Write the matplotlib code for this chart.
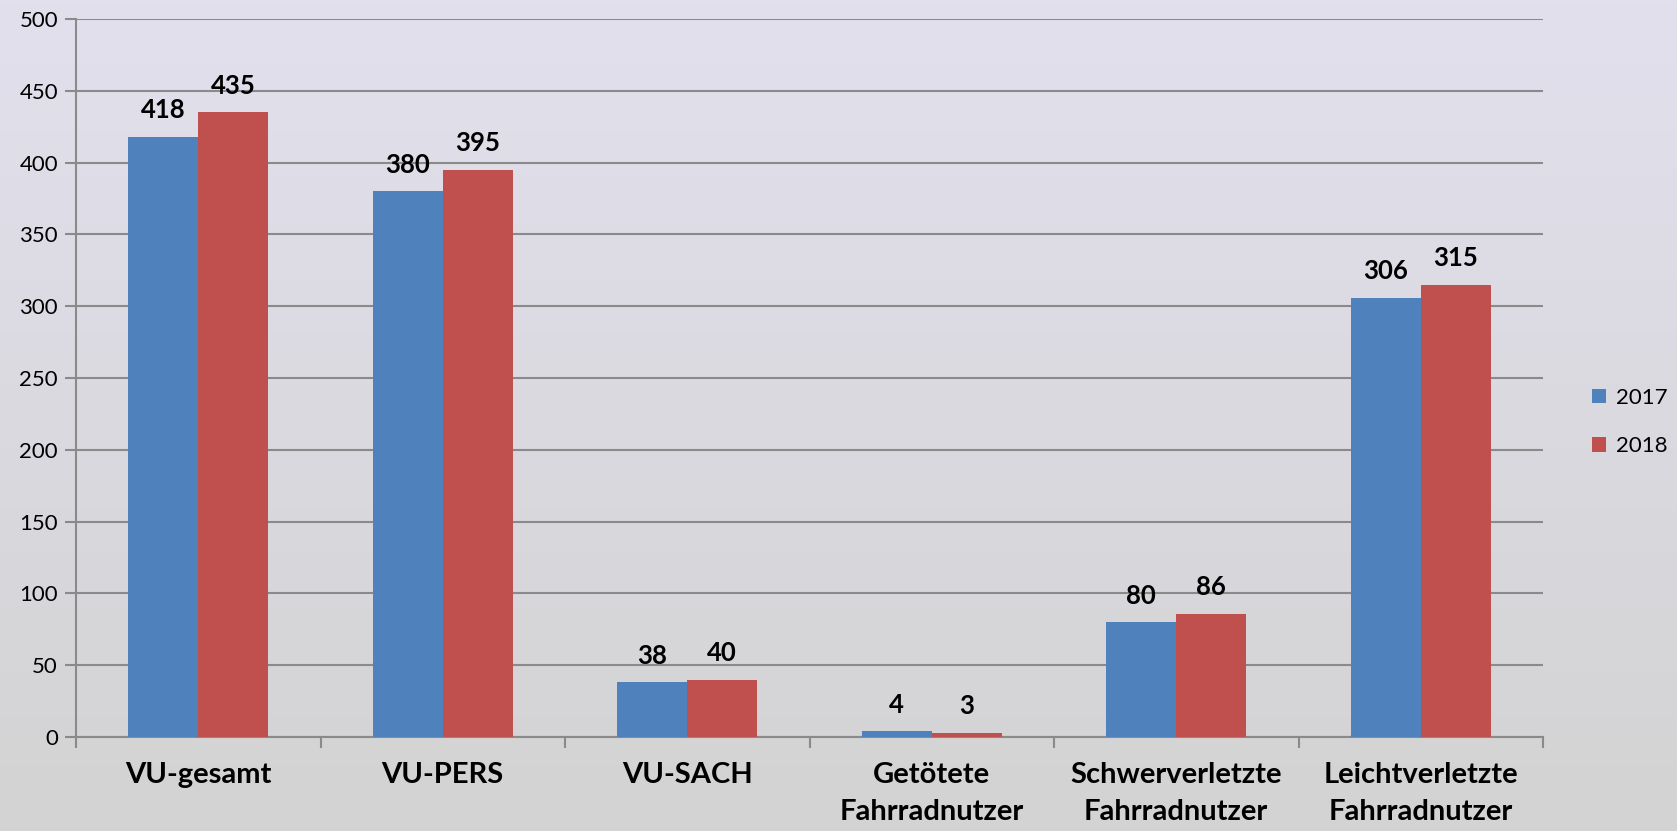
import numpy as np
import matplotlib
matplotlib.use("Agg")
import matplotlib.pyplot as plt

categories = ["VU-gesamt", "VU-PERS", "VU-SACH", "Getötete\nFahrradnutzer",
              "Schwerverletzte\nFahrradnutzer", "Leichtverletzte\nFahrradnutzer"]
series_names = ["2017", "2018"]
values_2017 = [418, 380, 38, 4, 80, 306]
values_2018 = [435, 395, 40, 3, 86, 315]
y_ticks = [0, 50, 100, 150, 200, 250, 300, 350, 400, 450, 500]

plt.rcParams['font.family'] = ['Lato', 'DejaVu Sans']

W, H = 1677, 831
fig = plt.figure(figsize=(W / 100, H / 100), dpi=100)

# gradient background
bg = fig.add_axes([0, 0, 1, 1], zorder=-10)
top = np.array([226, 224, 237]) / 255
bot = np.array([211, 211, 211]) / 255
t = np.linspace(0, 1, 256)[:, None]
grad = top[None, :] * (1 - t) + bot[None, :] * t
bg.imshow(grad[:, None, :], aspect='auto', extent=[0, 1, 0, 1], origin='upper')
bg.axis('off')

left, right = 76 / W, 1543 / W
bottom, topf = 1 - 737 / H, 1 - 19 / H
ax = fig.add_axes([left, bottom, right - left, topf - bottom])
ax.patch.set_alpha(0)

colors = ["#4F81BD", "#C0504D"]
x = np.arange(len(categories))
bw = 0.286
b1 = ax.bar(x - bw / 2, values_2017, bw, color=colors[0], label=series_names[0], zorder=3)
b2 = ax.bar(x + bw / 2, values_2018, bw, color=colors[1], label=series_names[1], zorder=3)

for bars, vals in ((b1, values_2017), (b2, values_2018)):
    for rect, v in zip(bars, vals):
        ax.annotate(str(v), (rect.get_x() + rect.get_width() / 2, v),
                    xytext=(0, 10.5), textcoords='offset points', ha='center', va='bottom',
                    fontsize=18.5, fontweight='bold', color='black')

ax.set_xlim(-0.5, len(categories) - 0.5)
ax.set_ylim(0, 500)
ax.set_yticks(y_ticks)
ax.set_yticklabels([str(v) for v in y_ticks], fontsize=16)
ax.set_xticks(x)
ax.set_xticklabels(categories, fontsize=21, fontweight='bold', va='top', linespacing=1.5)
ax.tick_params(axis='x', length=0, pad=18)
ax.set_xticks(np.arange(len(categories) + 1) - 0.5, minor=True)
ax.tick_params(axis='x', which='minor', length=8, width=1.5, color='#8a8a8a')
ax.tick_params(axis='y', length=8, width=1.5, color='#8a8a8a', pad=5)

gc = '#8a8a8a'
ax.grid(axis='y', color=gc, linewidth=1.5, zorder=0)
ax.set_axisbelow(True)
for s in ['top', 'right']:
    ax.spines[s].set_visible(False)
for s in ['left', 'bottom']:
    ax.spines[s].set_color(gc)
    ax.spines[s].set_linewidth(1.5)

fig.legend(handles=[b1, b2], labels=series_names, loc='center left',
           bbox_to_anchor=(1572 / W, 1 - 422 / H), frameon=False, fontsize=16,
           handlelength=0.65, handleheight=0.65, handletextpad=0.45, labelspacing=1.28)

fig.savefig("out.png", dpi=100)
